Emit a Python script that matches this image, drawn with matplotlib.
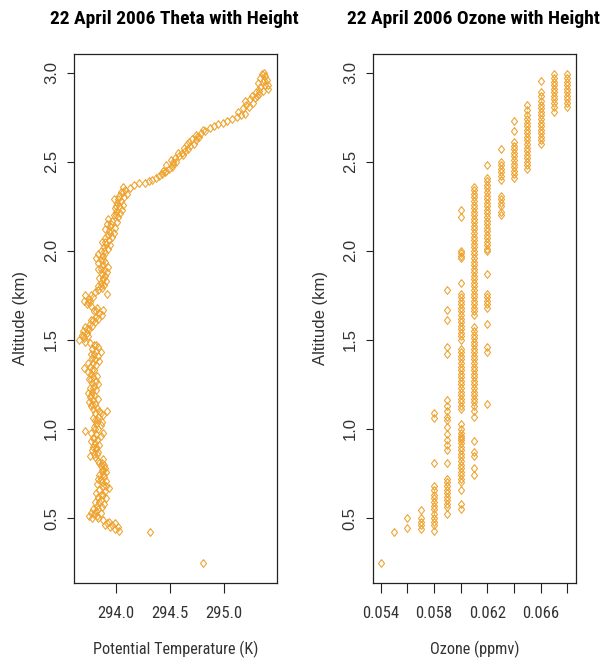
import matplotlib
matplotlib.use("Agg")
import matplotlib.pyplot as plt
from matplotlib import font_manager

# ---------------- data ----------------
theta_alt_km = [
    0.25, 0.42, 0.43, 0.44, 0.45, 0.45, 0.46, 0.47, 0.47, 0.48, 0.49, 0.50, 0.50, 0.51, 0.52,
    0.53, 0.53, 0.54, 0.55, 0.56, 0.57, 0.58, 0.59, 0.60, 0.61, 0.62, 0.63, 0.64, 0.65, 0.66,
    0.67, 0.68, 0.69, 0.70, 0.71, 0.72, 0.73, 0.74, 0.75, 0.76, 0.77, 0.78, 0.79, 0.80, 0.81,
    0.82, 0.83, 0.84, 0.85, 0.86, 0.87, 0.88, 0.89, 0.90, 0.91, 0.92, 0.93, 0.94, 0.95, 0.96,
    0.97, 0.98, 0.98, 0.99, 1.00, 1.01, 1.02, 1.03, 1.04, 1.05, 1.06, 1.07, 1.08, 1.09, 1.10,
    1.10, 1.11, 1.12, 1.13, 1.14, 1.15, 1.16, 1.17, 1.18, 1.19, 1.20, 1.21, 1.22, 1.23, 1.24,
    1.25, 1.26, 1.27, 1.28, 1.29, 1.30, 1.31, 1.32, 1.33, 1.34, 1.35, 1.36, 1.37, 1.38, 1.39,
    1.40, 1.41, 1.42, 1.43, 1.44, 1.45, 1.46, 1.47, 1.48, 1.49, 1.50, 1.51, 1.52, 1.53, 1.54,
    1.55, 1.56, 1.57, 1.58, 1.59, 1.60, 1.61, 1.62, 1.63, 1.64, 1.65, 1.66, 1.67, 1.68, 1.69,
    1.70, 1.71, 1.72, 1.73, 1.74, 1.75, 1.76, 1.77, 1.78, 1.79, 1.80, 1.81, 1.82, 1.83, 1.84,
    1.85, 1.86, 1.87, 1.88, 1.89, 1.90, 1.91, 1.92, 1.93, 1.94, 1.95, 1.96, 1.97, 1.98, 1.99,
    2.00, 2.01, 2.02, 2.03, 2.04, 2.05, 2.06, 2.07, 2.08, 2.09, 2.10, 2.11, 2.12, 2.13, 2.14,
    2.15, 2.16, 2.17, 2.18, 2.19, 2.20, 2.21, 2.22, 2.23, 2.24, 2.25, 2.26, 2.27, 2.28, 2.29,
    2.30, 2.31, 2.32, 2.33, 2.34, 2.35, 2.36, 2.37, 2.38, 2.38, 2.39, 2.40, 2.41, 2.42, 2.43,
    2.44, 2.45, 2.46, 2.47, 2.48, 2.49, 2.50, 2.51, 2.52, 2.53, 2.54, 2.55, 2.56, 2.57, 2.58,
    2.59, 2.60, 2.61, 2.62, 2.63, 2.64, 2.65, 2.66, 2.67, 2.68, 2.69, 2.70, 2.71, 2.72, 2.73,
    2.74, 2.75, 2.76, 2.77, 2.78, 2.80, 2.81, 2.82, 2.83, 2.84, 2.85, 2.86, 2.87, 2.88, 2.89,
    2.90, 2.91, 2.92, 2.93, 2.94, 2.95, 2.96, 2.97, 2.98, 2.99, 3.00,
    # second sounding pass (denser band)
    0.46, 0.51, 0.55, 0.59, 0.63, 0.68, 0.72, 0.77, 0.81, 0.86, 0.90, 0.95, 1.00, 1.05, 1.09,
    1.14, 1.19, 1.23, 1.28, 1.33, 1.37, 1.42, 1.47, 1.52, 1.56, 1.61, 1.66, 1.71, 1.75, 1.80,
    1.85, 1.90, 1.95, 2.00, 2.05, 2.10, 2.15, 2.20, 2.25, 2.29, 2.33, 2.45, 2.50, 2.55, 2.60,
    2.64, 2.87, 2.90, 2.93, 2.96,
]
theta_K = [
    294.81, 294.32, 294.03, 293.99, 294.02, 293.95, 293.97, 293.92, 293.99, 293.94, 293.88, 293.78, 293.84, 293.75, 293.80,
    293.77, 293.86, 293.82, 293.79, 293.87, 293.83, 293.89, 293.81, 293.86, 293.91, 293.84, 293.88, 293.82, 293.90, 293.85,
    293.94, 293.88, 293.83, 293.87, 293.91, 293.86, 293.89, 293.85, 293.88, 293.91, 293.87, 293.90, 293.86, 293.89, 293.87,
    293.84, 293.88, 293.81, 293.76, 293.80, 293.84, 293.78, 293.82, 293.79, 293.85, 293.81, 293.77, 293.83, 293.80, 293.86,
    293.82, 293.88, 293.77, 293.72, 293.84, 293.80, 293.86, 293.82, 293.87, 293.83, 293.79, 293.84, 293.88, 293.81, 293.92,
    293.85, 293.79, 293.83, 293.77, 293.81, 293.75, 293.79, 293.84, 293.76, 293.80, 293.74, 293.78, 293.82, 293.76, 293.80,
    293.84, 293.78, 293.82, 293.75, 293.79, 293.83, 293.77, 293.74, 293.80, 293.71, 293.76, 293.82, 293.79, 293.85, 293.81,
    293.78, 293.84, 293.80, 293.86, 293.82, 293.78, 293.84, 293.80, 293.76, 293.72, 293.66, 293.71, 293.74, 293.69, 293.73,
    293.70, 293.75, 293.72, 293.78, 293.76, 293.81, 293.79, 293.84, 293.82, 293.87, 293.85, 293.80, 293.88, 293.83, 293.77,
    293.73, 293.76, 293.71, 293.75, 293.79, 293.72, 293.92, 293.81, 293.84, 293.87, 293.84, 293.89, 293.86, 293.91, 293.88,
    293.85, 293.90, 293.87, 293.92, 293.89, 293.86, 293.93, 293.88, 293.84, 293.90, 293.86, 293.82, 293.88, 293.84, 293.90,
    293.86, 293.93, 293.89, 293.95, 293.91, 293.87, 293.94, 293.90, 293.97, 293.93, 293.98, 293.94, 293.90, 293.99, 293.95,
    293.92, 294.01, 293.97, 293.93, 294.02, 293.98, 294.04, 294.00, 294.06, 293.99, 294.03, 294.07, 294.01, 294.05, 293.98,
    294.08, 294.03, 294.10, 294.05, 294.09, 294.13, 294.07, 294.17, 294.22, 294.27, 294.31, 294.34, 294.37, 294.40, 294.43,
    294.46, 294.44, 294.49, 294.52, 294.47, 294.53, 294.56, 294.51, 294.55, 294.59, 294.62, 294.58, 294.64, 294.67, 294.63,
    294.69, 294.72, 294.68, 294.74, 294.71, 294.77, 294.74, 294.79, 294.83, 294.81, 294.87, 294.91, 294.95, 294.99, 295.03,
    295.08, 295.12, 295.16, 295.20, 295.13, 295.18, 295.23, 295.21, 295.27, 295.20, 295.24, 295.29, 295.26, 295.33, 295.30,
    295.36, 295.41, 295.34, 295.38, 295.32, 295.36, 295.40, 295.34, 295.38, 295.35, 295.37,
    293.90, 293.83, 293.84, 293.85, 293.86, 293.91, 293.84, 293.88, 293.85, 293.83, 293.82, 293.79, 293.81, 293.81, 293.86,
    293.78, 293.77, 293.79, 293.77, 293.78, 293.74, 293.77, 293.82, 293.70, 293.73, 293.77, 293.82, 293.74, 293.77, 293.86,
    293.88, 293.84, 293.88, 293.89, 293.90, 293.95, 293.96, 294.00, 294.00, 294.02, 294.07, 294.47, 294.53, 294.61, 294.66,
    294.75, 295.31, 295.33, 295.41, 295.37,
]

ozone_ppmv = (
    [0.068] * 10
    + [0.067] * 11
    + [0.066] * 16
    + [0.065] * 18
    + [0.064] * 13
    + [0.063] * 13
    + [0.062] * 33
    + [0.061] * 67
    + [0.060] * 60
    + [0.059] * 26
    + [0.058] * 15
    + [0.057] * 5
    + [0.056] * 2
    + [0.055] * 1
    + [0.054] * 1
)
ozone_alt_km = [
    # 0.068
    2.99, 2.97, 2.95, 2.93, 2.91, 2.89, 2.87, 2.85, 2.83, 2.81,
    # 0.067
    2.99, 2.97, 2.95, 2.93, 2.91, 2.89, 2.87, 2.85, 2.83, 2.81, 2.78,
    # 0.066
    2.955, 2.89, 2.87, 2.84, 2.82, 2.80, 2.78, 2.76, 2.74, 2.72, 2.70, 2.68, 2.66, 2.64, 2.62, 2.60,
    # 0.065
    2.82, 2.79, 2.76, 2.74, 2.72, 2.70, 2.68, 2.66, 2.64, 2.62, 2.60, 2.58, 2.56, 2.54, 2.52, 2.50, 2.48, 2.46,
    # 0.064
    2.73, 2.67, 2.61, 2.59, 2.57, 2.55, 2.53, 2.51, 2.49, 2.47, 2.45, 2.43, 2.41,
    # 0.063
    2.57, 2.50, 2.48, 2.46, 2.44, 2.42, 2.40, 2.31, 2.29, 2.27, 2.25, 2.22, 2.20,
    # 0.062
    2.48, 2.41, 2.39, 2.37, 2.35, 2.33, 2.31, 2.29, 2.27, 2.25, 2.23, 2.21, 2.19, 2.17, 2.15, 2.13,
    2.11, 2.09, 2.07, 2.05, 2.03, 2.01, 2.00, 1.87, 1.76, 1.74, 1.72, 1.70, 1.68, 1.59, 1.46, 1.43, 1.14,
    # 0.061
    2.36, 2.34, 2.32, 2.30, 2.28, 2.26, 2.24, 2.22, 2.20, 2.18, 2.16, 2.14, 2.12, 2.10, 2.08, 2.06,
    2.04, 2.02, 2.00, 1.98, 1.96, 1.94, 1.92, 1.90, 1.88, 1.86, 1.84, 1.82, 1.80, 1.78, 1.76, 1.74,
    1.72, 1.70, 1.68, 1.66, 1.64, 1.57, 1.55, 1.53, 1.51, 1.49, 1.47, 1.45, 1.43, 1.41, 1.39, 1.37,
    1.35, 1.33, 1.31, 1.29, 1.27, 1.25, 1.23, 1.21, 1.19, 1.17, 1.15, 1.13, 1.10, 1.07, 0.93, 0.87,
    0.85, 0.78, 0.74,
    # 0.060
    2.23, 2.19, 2.00, 1.99, 1.97, 1.96, 1.82, 1.76, 1.74, 1.72, 1.70, 1.68, 1.66, 1.64, 1.62, 1.60,
    1.58, 1.56, 1.54, 1.52, 1.50, 1.45, 1.43, 1.41, 1.39, 1.37, 1.35, 1.33, 1.31, 1.29, 1.27, 1.25,
    1.23, 1.21, 1.19, 1.17, 1.15, 1.13, 1.11, 1.03, 1.00, 0.98, 0.96, 0.94, 0.92, 0.90, 0.88, 0.86,
    0.84, 0.82, 0.80, 0.78, 0.76, 0.74, 0.72, 0.70, 0.66, 0.58, 0.55, 0.95,
    # 0.059
    1.78, 1.67, 1.61, 1.46, 1.42, 1.16, 1.13, 1.10, 1.07, 1.05, 1.01, 0.97, 0.94, 0.91, 0.88, 0.81,
    0.72, 0.70, 0.68, 0.66, 0.64, 0.62, 0.60, 0.58, 0.56, 0.52,
    # 0.058
    1.09, 1.06, 0.81, 0.68, 0.66, 0.63, 0.61, 0.59, 0.57, 0.55, 0.52, 0.50, 0.48, 0.46, 0.43,
    # 0.057
    0.545, 0.50, 0.48, 0.46, 0.44,
    # 0.056
    0.50, 0.445,
    # 0.055
    0.42,
    # 0.054
    0.25,
]

titles = ["22 April 2006 Theta with Height", "22 April 2006 Ozone with Height"]
xlabels = ["Potential Temperature (K)", "Ozone (ppmv)"]
ylabel_text = "Altitude (km)"
alt_ticks = [0.5, 1.0, 1.5, 2.0, 2.5, 3.0]
alt_tick_labels = ["0.5", "1.0", "1.5", "2.0", "2.5", "3.0"]
theta_ticks = [294.0, 294.5, 295.0]
theta_tick_labels = ["294.0", "294.5", "295.0"]
ozone_ticks = [0.054, 0.056, 0.058, 0.060, 0.062, 0.064, 0.066, 0.068]
ozone_tick_labels = ["0.054", "", "0.058", "", "0.062", "", "0.066", ""]

# ---------------- style ----------------
_installed = {f.name for f in font_manager.fontManager.ttflist}
_narrow = next((n for n in ["Liberation Sans Narrow", "Arial Narrow", "Roboto Condensed",
                            "Open Sans Condensed", "Noto Sans Condensed"] if n in _installed), None)
if _narrow:
    H_FAM = [_narrow, "Liberation Sans", "DejaVu Sans"]
    H_SIZE = 12
    XL_SIZE = 11.7
    T_SIZE = 14
else:
    H_FAM = ["Liberation Sans", "DejaVu Sans"]
    H_SIZE = 10.5
    XL_SIZE = 10.5
    T_SIZE = 11.9
V_FAM = ["Liberation Sans", "DejaVu Sans"]
V_SIZE = 12

POINT_COLOR = "#EFA22C"
DIAMOND = [(0, 1), (0.78, 0), (0, -1), (-0.78, 0), (0, 1)]
W, H = 611, 660

fig = plt.figure(figsize=(W / 100, H / 100), dpi=100)

def px_axes(x0, x1, y0, y1):
    return fig.add_axes([x0 / W, 1 - y1 / H, (x1 - x0) / W, (y1 - y0) / H])

ax1 = px_axes(74, 276.7, 54, 582.7)
ax2 = px_axes(372.7, 576, 54, 582.7)

mk = dict(linestyle="none", marker=DIAMOND, markersize=5.6, markerfacecolor="none",
          markeredgecolor=POINT_COLOR, markeredgewidth=0.75)
ax1.plot(theta_K, theta_alt_km, **mk)
ax2.plot(ozone_ppmv, ozone_alt_km, **mk)

ax1.set_xlim(293.614, 295.49)
ax2.set_xlim(0.05340, 0.06865)
for ax in (ax1, ax2):
    ax.set_ylim(0.137, 3.105)

ax1.set_xticks(theta_ticks)
ax1.set_xticklabels(theta_tick_labels)
ax2.set_xticks(ozone_ticks)
ax2.set_xticklabels(ozone_tick_labels)

for ax, title, xl, ylx in ((ax1, titles[0], xlabels[0], -0.266), (ax2, titles[1], xlabels[1], -0.259)):
    ax.set_yticks(alt_ticks)
    ax.set_yticklabels(alt_tick_labels, rotation=90, va="center")
    for s in ax.spines.values():
        s.set_linewidth(0.9)
        s.set_color("#222222")
    ax.tick_params(axis="x", direction="out", length=7.2, width=0.8, pad=9.8,
                   labelsize=H_SIZE, colors="#222222")
    ax.tick_params(axis="y", direction="out", length=5.2, width=0.8, pad=5.5,
                   labelsize=V_SIZE, colors="#222222")
    for lab in ax.get_xticklabels():
        lab.set_family(H_FAM)
        lab.set_color("#333333")
    for lab in ax.get_yticklabels():
        lab.set_family(V_FAM)
        lab.set_color("#333333")
    ax.set_xlabel(xl, family=H_FAM, fontsize=XL_SIZE, color="#333333")
    ax.xaxis.set_label_coords(0.5, -0.1254)
    ax.xaxis.label.set_va("center")
    ax.set_ylabel(ylabel_text, family=V_FAM, fontsize=V_SIZE, color="#333333")
    ax.yaxis.set_label_coords(ylx, 0.5)
    ax.yaxis.label.set_va("center")
    pos = ax.get_position()
    fig.text(pos.x0 + pos.width / 2 - 0.002, 1 - 24.5 / H, title, ha="center", va="baseline",
             family=H_FAM, fontsize=T_SIZE, fontweight="bold", color="black")

fig.savefig("out.png", dpi=100, facecolor="white")
